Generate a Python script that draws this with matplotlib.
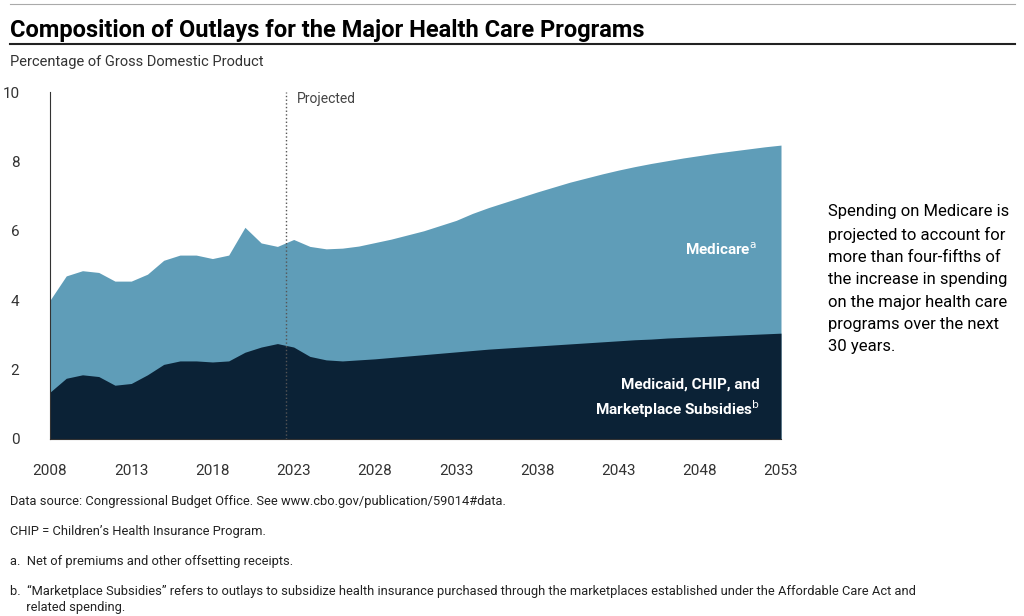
import matplotlib
matplotlib.use("Agg")
import matplotlib.pyplot as plt

plt.rcParams['font.family'] = ['Roboto', 'DejaVu Sans']

years = list(range(2008, 2054))
total = [4.0,4.7,4.85,4.8,4.55,4.55,4.75,5.15,5.3,5.3,5.2,5.3,6.1,5.65,5.55,5.75,5.55,5.48,5.5,5.56,5.66,5.76,5.88,6.0,6.15,6.3,6.5,6.67,6.82,6.97,7.12,7.26,7.4,7.52,7.64,7.75,7.85,7.94,8.02,8.1,8.17,8.24,8.3,8.36,8.42,8.47,8.5,8.52][:46]
medicaid = [1.35,1.75,1.85,1.8,1.55,1.6,1.85,2.15,2.25,2.25,2.22,2.25,2.5,2.65,2.75,2.65,2.38,2.28,2.25,2.28,2.31,2.35,2.39,2.43,2.47,2.51,2.55,2.59,2.62,2.65,2.68,2.71,2.74,2.77,2.8,2.83,2.86,2.88,2.91,2.93,2.95,2.97,2.99,3.01,3.03,3.05][:46]
xticks = list(range(2008, 2054, 5))

fig = plt.figure(figsize=(10.24, 6.16), dpi=100)
ax = fig.add_axes([50/1024, 1-439/616, 731/1024, 347/616])
ax.fill_between(years, 0, total, color="#5f9db8", lw=0)
ax.fill_between(years, 0, medicaid, color="#0b2236", lw=0)
ax.set_xlim(2008, 2053); ax.set_ylim(0, 10)
ax.set_xticks(xticks); ax.set_yticks(range(0, 11, 2))
for s in ["top", "right"]: ax.spines[s].set_visible(False)
ax.spines["left"].set_color("#333333"); ax.spines["bottom"].set_color("#333333")
ax.tick_params(labelsize=11, colors="#333333", length=0, pad=18)
ax.tick_params(axis="y", pad=22)
ax.axvline(2022.5, color="#555555", ls=":", lw=1)
ax.text(2023.2, 9.8, "Projected", fontsize=10, color="#444444", va="center")
ax.text(2051.5, 5.3, "Medicare$^{\\mathrm{a}}$", color="white", fontsize=11, fontweight="bold", ha="right")
ax.text(2051.7, 0.7, "Medicaid, CHIP, and\nMarketplace Subsidies$^{\\mathrm{b}}$", color="white", fontsize=11, fontweight="bold", ha="right", linespacing=1.4)

fig.text(10/1024, 1-30/616, "Composition of Outlays for the Major Health Care Programs", fontsize=17, fontweight="bold", va="center")
fig.add_artist(plt.Line2D([10/1024, 1015/1024], [1-44/616]*2, color="#222222", lw=1.5))
fig.add_artist(plt.Line2D([10/1024, 1015/1024], [1-4/616]*2, color="#aaaaaa", lw=0.8))
fig.text(10/1024, 1-62/616, "Percentage of Gross Domestic Product", fontsize=10.5, va="center", color="#333333")
fig.text(828/1024, 1-279/616, "Spending on Medicare is\nprojected to account for\nmore than four-fifths of\nthe increase in spending\non the major health care\nprograms over the next\n30 years.", fontsize=12, va="center", linespacing=1.6)
notes = [(502, "Data source: Congressional Budget Office. See www.cbo.gov/publication/59014#data."),
         (531, "CHIP = Children’s Health Insurance Program."),
         (561, "a.  Net of premiums and other offsetting receipts."),
         (591, "b.  “Marketplace Subsidies” refers to outlays to subsidize health insurance purchased through the marketplaces established under the Affordable Care Act and"),
         (607, "     related spending.")]
for y, t in notes:
    fig.text(10/1024, 1-y/616, t, fontsize=9.3, va="center", color="#222222")
fig.savefig("out.png", dpi=100)
